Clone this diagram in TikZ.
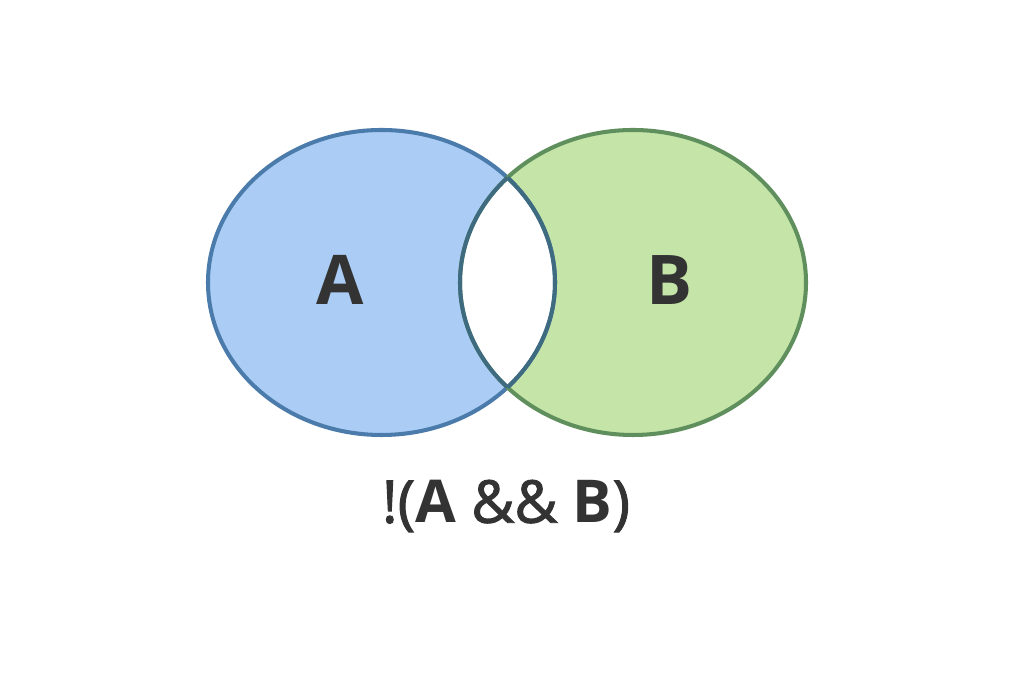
\documentclass[tikz,border=0pt]{standalone}
\usepackage{fontspec}
\setmainfont{Open Sans}
\usepackage{xcolor}
\definecolor{fillA}{HTML}{ABCDF5}
\definecolor{lineA}{HTML}{4A7BAA}
\definecolor{fillB}{HTML}{C4E4A8}
\definecolor{lineB}{HTML}{5F8F5C}
\definecolor{lineAB}{HTML}{3F6B80}
\definecolor{txt}{HTML}{333333}

\begin{document}
\begin{tikzpicture}[x=0.01cm,y=-0.01cm,
    setline/.style={line width=1.15pt},
    setlabel/.style={text=txt,font=\fontsize{19.5}{22}\selectfont\bfseries},
    exprlabel/.style={text=txt,font=\fontsize{16.8}{20}\selectfont\addfontfeature{FakeBold=1.6}}]
            \useasboundingbox (0,0) rectangle (1024,683);
            \fill[white] (0,0) rectangle (1024,683);
            % the two sets
            \fill[fillA] (381.5,282.5) ellipse [x radius=173.5,y radius=152.5];
            \fill[fillB] (633,282.5) ellipse [x radius=173,y radius=152.5];
            \begin{scope}
                \clip (381.5,282.5) ellipse [x radius=173.5,y radius=152.5];
                \fill[white] (633,282.5) ellipse [x radius=173,y radius=152.5];
            \end{scope}
            \draw[lineA,setline] (381.5,282.5) ellipse [x radius=173.5,y radius=152.5];
            \draw[lineB,setline] (633,282.5) ellipse [x radius=173,y radius=152.5];
            % lens border
            \begin{scope}
                \clip (381.5,282.5) ellipse [x radius=173.5,y radius=152.5];
                \draw[lineAB,setline] (633,282.5) ellipse [x radius=173,y radius=152.5];
            \end{scope}
            \begin{scope}
                \clip (633,282.5) ellipse [x radius=173,y radius=152.5];
                \draw[lineAB,setline] (381.5,282.5) ellipse [x radius=173.5,y radius=152.5];
            \end{scope}

            \node[setlabel] (labelA) at (340,280){A};
            \node[setlabel] (labelB) at (670,280){B};
            \node[exprlabel] (expr) at (506,506){!({\fontspec{Open Sans}[FakeBold=0]\bfseries A} \&\& {\fontspec{Open Sans}[FakeBold=0]\bfseries B})};
\end{tikzpicture}
\end{document}
